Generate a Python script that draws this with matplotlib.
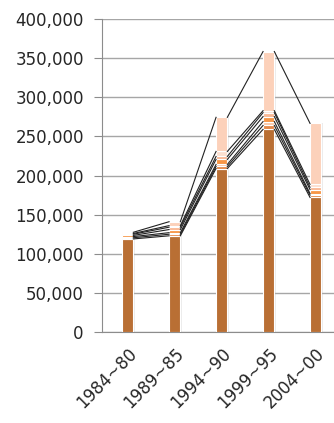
import numpy as np
import matplotlib.pyplot as plt
from matplotlib.ticker import FuncFormatter

periods = ['1984~80', '1989~85', '1994~90', '1999~95', '2004~00']

# stacked components, bottom to top
base = [119000, 123000, 209000, 259000, 172000]
part2 = [1500, 2000, 2600, 5000, 3000]
part3 = [1500, 2000, 2600, 5000, 2000]
part4 = [1500, 4000, 6400, 6400, 5000]
part5 = [1500, 3000, 3800, 5000, 3000]
part6 = [1000, 2000, 6400, 2500, 3700]
part7 = [1500, 5000, 43600, 75600, 78000]

series = [base, part2, part3, part4, part5, part6, part7]
colors = ['#b96f34', '#e4884a', '#fbc9a8', '#f79646', '#fab894', '#fde0d0', '#fcd1ba']

fig = plt.figure(figsize=(3.34, 4.23), dpi=100)
ax = fig.add_axes([0.305, 0.215, 0.695, 0.74])

x = np.arange(len(periods))
width = 0.24

totals = np.sum(np.array(series), axis=0)
# soft drop shadow behind the columns
ax.bar(x + 0.035, totals, width + 0.02, color='#b0b0b0', alpha=0.25, zorder=2, linewidth=0)

bottom = np.zeros(len(periods))
for vals, col in zip(series, colors):
    vals = np.array(vals, dtype=float)
    ax.bar(x, vals, width, bottom=bottom, color=col, edgecolor='white',
           linewidth=0.8, zorder=3)
    bottom = bottom + vals
    # series lines joining the tops of each segment
    for i in range(len(periods) - 1):
        ax.plot([x[i] + width / 2, x[i + 1] - width / 2], [bottom[i], bottom[i + 1]],
                color='#222222', linewidth=0.8, zorder=4)

ax.set_ylim(0, 400000)
ax.set_xlim(-0.55, 4.39)
ax.set_yticks(np.arange(0, 400001, 50000))
ax.yaxis.set_major_formatter(FuncFormatter(lambda v, p: f'{int(v):,}'))
ax.set_xticks(x)
ax.set_xticklabels(periods, rotation=45, ha='right', rotation_mode='anchor')

ax.grid(axis='y', color='#a6a6a6', linewidth=1, zorder=0)
ax.set_axisbelow(True)
for s in ['top', 'right']:
    ax.spines[s].set_visible(False)
for s in ['left', 'bottom']:
    ax.spines[s].set_color('#8c8c8c')
ax.tick_params(axis='y', length=6, color='#8c8c8c', labelsize=12, labelcolor='#262626', pad=7)
ax.tick_params(axis='x', length=0, labelsize=12, labelcolor='#262626', pad=9)

plt.savefig('out.png', dpi=100)
